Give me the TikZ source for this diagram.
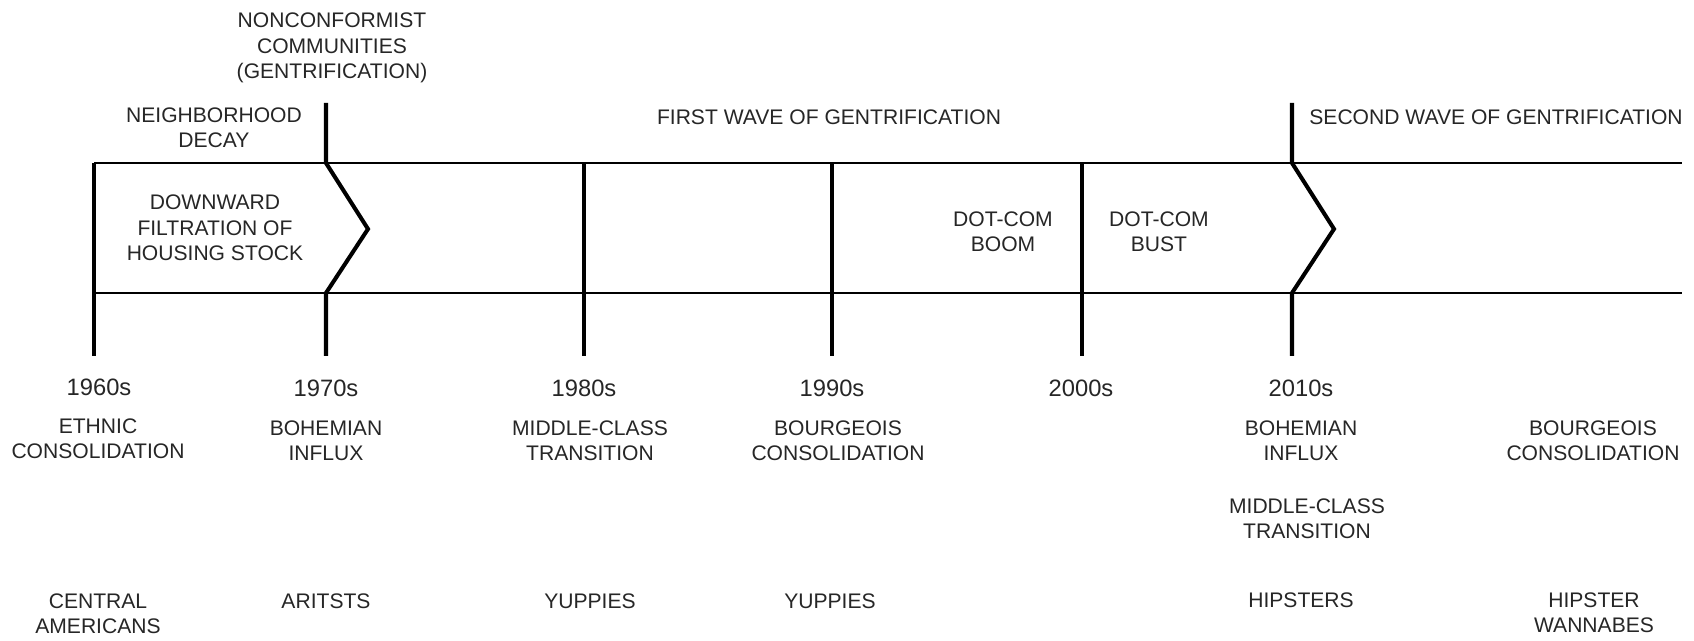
\documentclass[tikz,border=0pt]{standalone}
\usepackage{fontspec}
\setmainfont{Liberation Sans}
\usetikzlibrary{positioning}

\begin{document}
\begin{tikzpicture}
	[x=0.02cm,y=-0.02cm,
	txt/.style={align=center,inner sep=0pt,text=black!85,font=\fontsize{12}{14.5}\selectfont},
	decade/.style={inner sep=0pt,text=black!85,font=\fontsize{13.5}{16}\selectfont},
	rail/.style={line width=1.4pt},
	post/.style={line width=2.3pt,line join=miter}]
	\useasboundingbox (0,0) rectangle (1694,641);
	% the two rails
	\coordinate (tl) at (94,163);
	\coordinate (tr) at (1682,163);
	\coordinate (bl) at (94,293);
	\coordinate (br) at (1682,293);
	\draw[rail] (tl) -- (tr);
	\draw[rail] (bl) -- (br);
	% straight posts
	\foreach \x/\n in {94/a,584/c,832/d,1082/e} {
		\coordinate (up\n) at (\x,163);
		\coordinate (dn\n) at (\x,356);
		\draw[post] (up\n) -- (dn\n);
	}
	% posts with a chevron
	\foreach \x/\n in {326/b,1292/f} {
		\coordinate (top\n) at (\x,103);
		\coordinate (up\n) at (\x,163);
		\coordinate (tip\n) at (\x+42,229);
		\coordinate (dn\n) at (\x,293);
		\coordinate (bot\n) at (\x,356);
		\draw[post] (top\n) -- (up\n) -- (tip\n) -- (dn\n) -- (bot\n);
	}
	% above the rails
	\node [txt] (nonconf) at (332,48) {NONCONFORMIST\\COMMUNITIES\\(GENTRIFICATION)};
	\node [txt] (decay) at (214,128) {NEIGHBORHOOD\\DECAY};
	\node [txt] (first) at (829,117) {FIRST WAVE OF GENTRIFICATION};
	\node [txt] (second) at (1496,117) {SECOND WAVE OF GENTRIFICATION};
	% between the rails
	\node [txt] (filtr) at (215,228) {DOWNWARD\\FILTRATION OF\\HOUSING STOCK};
	\node [txt] (boom) at (1003,232) {DOT-COM\\BOOM};
	\node [txt] (bust) at (1159,232) {DOT-COM\\BUST};
	% decades
	\node [decade] (d60) at (99,387) {1960s};
	\node [decade] (d70) at (326,388) {1970s};
	\node [decade] (d80) at (584,388) {1980s};
	\node [decade] (d90) at (832,388) {1990s};
	\node [decade] (d00) at (1081,388) {2000s};
	\node [decade] (d10) at (1301,388) {2010s};
	% stages
	\node [txt] (ethnic) at (98,439) {ETHNIC\\CONSOLIDATION};
	\node [txt] (boh1) at (326,441) {BOHEMIAN\\INFLUX};
	\node [txt] (mid1) at (590,441) {MIDDLE-CLASS\\TRANSITION};
	\node [txt] (bour1) at (838,441) {BOURGEOIS\\CONSOLIDATION};
	\node [txt] (boh2) at (1301,441) {BOHEMIAN\\INFLUX};
	\node [txt] (mid2) at (1307,519) {MIDDLE-CLASS\\TRANSITION};
	\node [txt] (bour2) at (1593,441) {BOURGEOIS\\CONSOLIDATION};
	% people
	\node [txt] (central) at (98,614) {CENTRAL\\AMERICANS};
	\node [txt] (artists) at (326,601) {ARITSTS};
	\node [txt] (yup1) at (590,601) {YUPPIES};
	\node [txt] (yup2) at (830,601) {YUPPIES};
	\node [txt] (hip) at (1301,600) {HIPSTERS};
	\node [txt] (wanna) at (1594,613) {HIPSTER\\WANNABES};
\end{tikzpicture}
\end{document}
